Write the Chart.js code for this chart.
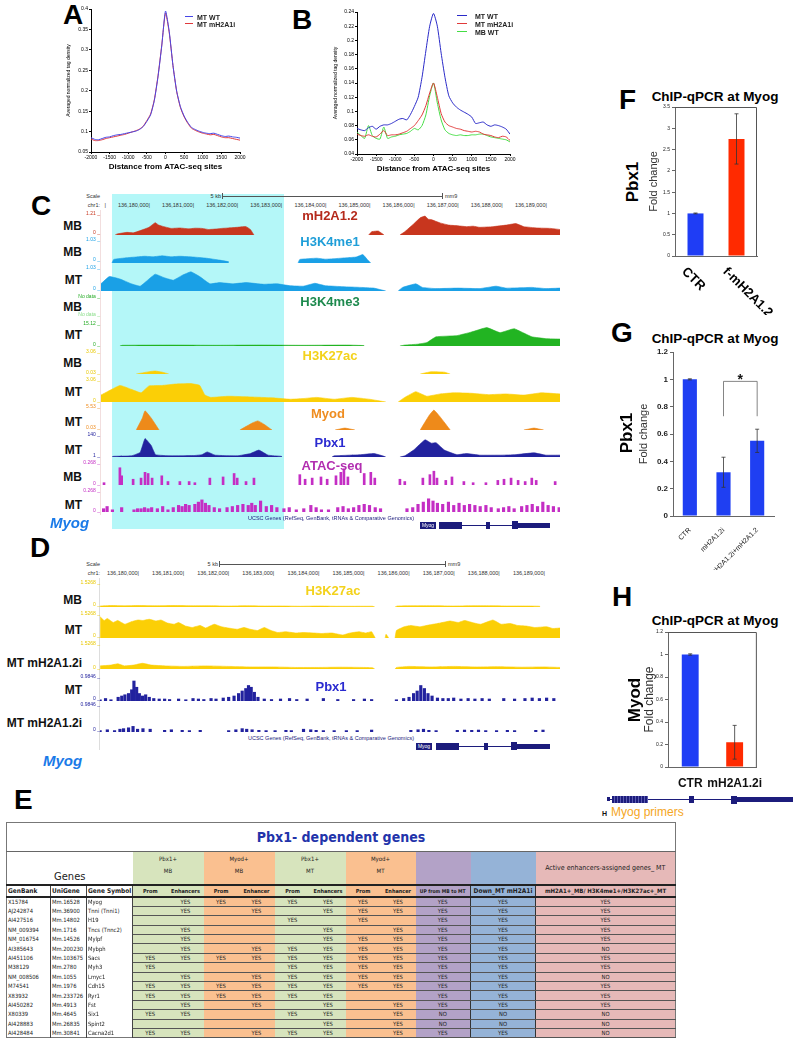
<!DOCTYPE html>
<html lang="en">
<head>
<meta charset="UTF-8" />
<title>Pbx1 / mH2A1.2 at Myog</title>
<script src="https://cdn.jsdelivr.net/npm/chart.js@4.4.1/dist/chart.umd.min.js"></script>
<style>
  html, body { margin: 0; padding: 0; background: #fff; }
  body { position: relative; width: 800px; height: 1043px; overflow: hidden;
         font-family: "Liberation Sans", Arial, sans-serif; }
  .abs { position: absolute; white-space: nowrap; line-height: 1; }
  canvas { position: absolute; }
  .letter { position: absolute; font: bold 28px "Liberation Sans", Arial, sans-serif; line-height: 1; }
  .ttl { position: absolute; font: bold 13.5px "Liberation Sans", Arial, sans-serif; transform: translateX(-50%); white-space: nowrap; }
  table.genes { position: absolute; left: 6px; top: 822px; width: 670px; border-collapse: collapse;
    table-layout: fixed; font-family: "Liberation Sans Narrow", "DejaVu Sans Condensed", "Liberation Sans", sans-serif;
    color: #222; border: 1px solid #777; }
  table.genes td { padding: 0; overflow: hidden; white-space: nowrap; }
  table.genes tr.d td { height: 8.4px; font-size: 5.8px; line-height: 8px; border-bottom: 1px solid #555; text-align: center; }
  table.genes tr.d td.w { text-align: left; border-bottom: none; border-right: 1px solid #444; padding-left: 1px; }
  .g { background: #d7e4bd; } .o { background: #fac090; } .p { background: #b3a2c7; } .b { background: #95b3d7; } .k { background: #e6b9b8; }
</style>
</head>
<body>

<div class="letter" style="left:63px;top:1px">A</div>
<div class="letter" style="left:292px;top:6px">B</div>
<div class="letter" style="left:31px;top:192px">C</div>
<div class="letter" style="left:30px;top:534px">D</div>
<div class="letter" style="left:14px;top:786px">E</div>
<div class="letter" style="left:619px;top:86px">F</div>
<div class="letter" style="left:611px;top:319px">G</div>
<div class="letter" style="left:612px;top:583px">H</div>

<div class="ttl" style="left:715px;top:89px">ChIP-qPCR at Myog</div>
<div class="ttl" style="left:715px;top:331px">ChIP-qPCR at Myog</div>
<div class="ttl" style="left:715px;top:613px">ChIP-qPCR at Myog</div>

<!-- highlight behind panel C -->
<div class="abs" style="left:112px;top:194px;width:172px;height:335px;background:#b4f7f8"></div>
<div class="abs" style="left:100px;top:210px;width:1px;height:305px;background:#f2dede"></div>
<div class="abs" style="left:99px;top:578px;width:1px;height:172px;background:#ddd"></div>

<script>
// ---------------- A / B : ATAC-seq centred profiles ----------------
const distBins = [-2000,-1900,-1800,-1700,-1600,-1500,-1400,-1300,-1200,-1100,-1000,-900,-800,-700,-600,-500,-400,-300,-200,-100,0,
                  100,200,300,400,500,600,700,800,900,1000,1100,1200,1300,1400,1500,1600,1700,1800,1900,2000];
const aMtWt  = [0.085,0.081,0.080,0.083,0.086,0.087,0.090,0.092,0.093,0.095,0.097,0.099,0.101,0.105,0.112,0.125,0.141,0.176,0.235,0.310,0.395,
                0.345,0.262,0.199,0.161,0.138,0.122,0.110,0.105,0.101,0.098,0.096,0.095,0.096,0.093,0.090,0.088,0.089,0.087,0.086,0.084];
const aMtKd  = [0.082,0.078,0.078,0.080,0.083,0.085,0.087,0.089,0.091,0.093,0.096,0.099,0.102,0.106,0.113,0.127,0.143,0.178,0.237,0.312,0.390,
                0.342,0.262,0.198,0.159,0.136,0.120,0.108,0.103,0.099,0.096,0.094,0.092,0.093,0.090,0.087,0.085,0.085,0.083,0.081,0.079];
const bMtWt  = [0.076,0.074,0.073,0.077,0.079,0.075,0.079,0.081,0.081,0.083,0.086,0.089,0.090,0.088,0.096,0.107,0.120,0.148,0.185,0.220,0.238,
                0.220,0.182,0.148,0.122,0.112,0.106,0.102,0.099,0.096,0.092,0.083,0.084,0.085,0.081,0.079,0.081,0.080,0.078,0.075,0.068];
const bMtKd  = [0.068,0.066,0.065,0.067,0.065,0.064,0.068,0.073,0.066,0.067,0.067,0.068,0.070,0.072,0.076,0.080,0.087,0.095,0.108,0.126,0.140,
                0.120,0.097,0.085,0.080,0.078,0.076,0.075,0.073,0.072,0.071,0.072,0.071,0.068,0.067,0.066,0.064,0.063,0.065,0.064,0.059];
const bMbWt  = [0.071,0.066,0.062,0.080,0.066,0.062,0.061,0.078,0.062,0.064,0.065,0.067,0.068,0.069,0.072,0.076,0.074,0.080,0.095,0.122,0.140,
                0.112,0.088,0.074,0.069,0.067,0.066,0.067,0.066,0.066,0.067,0.067,0.068,0.068,0.066,0.064,0.063,0.062,0.061,0.060,0.057];

// ---------------- F / G / H : ChIP-qPCR ----------------
const fLabels = ['CTR', 'f-mH2A1.2'];
const fValues = [1.0, 2.75];
const fErrors = [0.01, 0.59];
const gLabels = ['CTR', 'mH2A1.2i', 'mH2A1.2i+mH2A1.2'];
const gValues = [1.0, 0.32, 0.55];
const gErrors = [0.004, 0.11, 0.085];
const hLabels = ['CTR', 'mH2A1.2i'];
const hValues = [1.0, 0.22];
const hErrors = [0.006, 0.15];

// ---------------- C : browser tracks, [kb from chr1:136,180,000, fraction of view max] ----------------
const cMh2aMb = [[-0.77,0],[-0.72,0.05],[-0.5,0.12],[-0.35,0.1],[-0.2,0.2],[0,0.35],[0.14,0.56],[0.22,0.45],[0.3,0.4],[0.5,0.3],[0.7,0.32],[0.9,0.28],[1.05,0.31],[1.2,0.3],
  [1.35,0.25],[1.5,0.27],[1.65,0.3],[1.8,0.32],[2.0,0.35],[2.2,0.38],[2.3,0.25],[2.38,0],[2.39,null],[4.98,0],[5.05,0.15],[5.2,0.18],[5.33,0],[5.34,null],
  [5.69,0],[5.8,0.15],[6.0,0.5],[6.15,0.78],[6.26,0.86],[6.33,0.72],[6.4,0.7],[6.6,0.55],[6.8,0.45],[7.0,0.42],[7.2,0.38],[7.35,0.4],[7.5,0.35],[7.8,0.38],
  [8.1,0.45],[8.32,0.52],[8.5,0.38],[8.8,0.32],[9.1,0.3],[9.32,0.25]];
const cK4me1Mb = [[-0.84,0],[-0.8,0.15],[-0.5,0.22],[-0.3,0.25],[-0.1,0.28],[0.1,0.26],[0.3,0.3],[0.5,0.26],[0.7,0.28],[1.0,0.25],[1.3,0.2],[1.6,0.12],[1.81,0.05],[1.82,null],
  [3.38,0],[3.42,0.15],[3.8,0.2],[4.0,0.16],[4.2,0.18],[4.5,0.22],[4.7,0.25],[4.85,0.35],[4.95,0.15],[5.03,0]];
const cK4me1Mt = [[-1.09,0.3],[-0.9,0.6],[-0.66,0.5],[-0.4,0.3],[-0.2,0.2],[0.0,0.5],[0.14,0.7],[0.35,0.55],[0.55,0.45],[0.75,0.65],
  [0.95,0.8],[1.15,0.6],[1.38,0.3],[1.6,0.35],[1.9,0.3],[2.2,0.35],[2.6,0.28],[2.9,0.3],[3.2,0.22],[3.5,0.2],[3.76,0.32],[4.0,0.22],
  [4.4,0.18],[4.8,0.15],[5.1,0.12],[5.37,0],[5.38,null],[5.65,0],[5.75,0.15],[6.05,0.3],[6.2,0.15],[6.5,0.1],[7.0,0.12],[7.5,0.1],
  [7.87,0.2],[8.1,0.12],[8.68,0.15],[9.0,0.1],[9.32,0.12]];
const cK4me3Mt = [[-0.66,0],[-0.6,0.03],[0.5,0.04],[1.5,0.03],[2.5,0.04],[3.5,0.03],[4.5,0.04],[4.88,0.02],[4.89,null],[5.69,0],[5.8,0.04],
  [6.1,0.08],[6.3,0.15],[6.51,0.4],[6.98,0.45],[7.3,0.6],[7.66,0.8],[7.96,0.58],[8.28,0.75],[8.68,0.4],[9.0,0.32],[9.32,0.3]];
const cK27acMb = [[-0.29,0],[0.0,0.1],[0.14,0.13],[0.3,0.08],[0.45,0],[0.46,null],[6.15,0],[6.4,0.1],[6.7,0.08],[6.83,0]];
const cK27acMt = [[-1.09,0.3],[-0.66,0.72],[-0.4,0.55],[-0.18,0.4],[0.0,0.7],[0.3,0.72],[0.6,0.78],[0.95,0.8],[1.15,0.72],[1.27,0.3],
  [1.4,0.2],[1.8,0.25],[2.3,0.22],[2.8,0.18],[3.2,0.12],[3.5,0.15],[3.8,0.2],[4.2,0.12],[4.6,0.2],[5.0,0.12],[5.37,0],[5.38,null],
  [5.65,0],[5.8,0.2],[6.05,0.45],[6.3,0.25],[6.6,0.35],[6.9,0.4],[7.3,0.38],[7.7,0.32],[8.1,0.35],[8.5,0.3],[8.9,0.4],[9.32,0.35]];
const cMyodMt = [[-0.29,0],[-0.15,0.5],[-0.09,0.8],[0.05,0.5],[0.23,0],[0.24,null],[2.06,0],[2.35,0.3],[2.47,0.38],[2.6,0.25],[2.79,0],
  [2.8,null],[4.22,0],[4.44,0.08],[4.67,0],[4.68,null],[6.15,0],[6.35,0.6],[6.46,0.83],[6.6,0.55],[6.83,0],[6.84,null],[8.5,0],[8.73,0.08],[8.95,0]];
const cPbx1Mt = [[-0.84,0],[-0.8,0.03],[-0.4,0.05],[-0.2,0.2],[-0.09,0.8],[0.05,0.5],[0.15,0.1],[0.5,0.05],[1.0,0.06],[1.2,0.1],[1.32,0.22],
  [1.5,0.08],[2.0,0.05],[2.3,0.15],[2.49,0.3],[2.7,0.08],[3.0,0.03],[3.02,0],[3.03,null],[4.15,0],[4.2,0.05],[4.8,0.1],[5.1,0.15],
  [5.3,0.05],[5.37,0],[5.38,null],[5.69,0],[5.8,0.05],[6.0,0.3],[6.26,0.75],[6.4,0.6],[6.51,0.62],[6.7,0.3],[6.98,0.1],[7.2,0.15],
  [7.5,0.08],[8.0,0.08],[8.3,0.1],[8.73,0.18],[9.0,0.08],[9.32,0.08]];
const cAtacMb = [[-1.02,0.1],[-0.66,0.75],[-0.62,0.4],[-0.36,0.25],[-0.18,0.3],[-0.09,0.55],[-0.02,0.5],[0.07,0.3],[0.29,0.4],[0.43,0.15],
  [0.70,0.15],[0.91,0.15],[1.04,0.1],[1.38,0.3],[1.68,0.35],[1.93,0.5],[2.0,0.3],[2.2,0.15],[2.38,0.3],[3.42,0.45],[3.54,0.25],[3.70,0.3],
  [3.90,0.35],[4.04,0.25],[4.24,0.4],[4.35,0.55],[4.42,0.7],[4.51,0.35],[4.88,0.5],[5.03,0.55],[5.12,0.3],[5.69,0.25],[5.80,0.15],
  [6.21,0.3],[6.37,0.45],[6.46,0.6],[6.53,0.3],[6.73,0.2],[6.87,0.35],[7.14,0.15],[7.35,0.1],[7.64,0.1],[7.91,0.2],[8.05,0.25],
  [8.21,0.3],[8.37,0.2],[8.53,0.15],[8.68,0.3],[8.78,0.2],[9.21,0.15]];
const cAtacMt = [[-1.03,0.15],[-0.95,0.25],[-0.83,0.1],[-0.62,0.2],[-0.34,0.1],[-0.26,0.15],[-0.18,0.15],[-0.10,0.2],[-0.02,0.15],[0.06,0.2],
  [0.19,0.15],[0.31,0.25],[0.43,0.1],[0.55,0.2],[0.67,0.3],[0.75,0.25],[0.83,0.35],[0.91,0.3],[1.04,0.35],[1.12,0.45],[1.20,0.55],
  [1.28,0.4],[1.36,0.3],[1.48,0.2],[1.60,0.15],[1.77,0.2],[1.89,0.25],[2.01,0.3],[2.13,0.35],[2.25,0.3],[2.33,0.4],[2.41,0.3],[2.53,0.5],
  [2.66,0.25],[2.78,0.3],[2.90,0.2],[3.06,0.15],[3.18,0.2],[3.34,0.1],[3.51,0.15],[3.67,0.3],[3.79,0.2],[3.91,0.1],[4.07,0.1],[4.28,0.2],
  [4.40,0.25],[4.52,0.15],[4.64,0.2],[4.76,0.3],[4.88,0.35],[5.00,0.3],[5.13,0.2],[5.25,0.15],[5.85,0.15],[5.98,0.2],[6.10,0.35],
  [6.22,0.45],[6.34,0.6],[6.44,0.5],[6.54,0.4],[6.66,0.35],[6.79,0.45],[6.91,0.3],[7.03,0.4],[7.15,0.3],[7.27,0.35],[7.39,0.3],[7.51,0.25],
  [7.64,0.3],[7.76,0.2],[7.92,0.15],[8.04,0.2],[8.16,0.25],[8.28,0.15],[8.45,0.25],[8.57,0.3],[8.69,0.35],[8.81,0.25],[8.93,0.45],
  [9.05,0.3],[9.17,0.25],[9.30,0.2]];

// ---------------- D : browser tracks ----------------
const dK27acMb = [[-0.84,0.04],[-0.6,0.06],[-0.3,0.05],[0,0.06],[0.4,0.05],[0.8,0.06],[1.2,0.05],[1.6,0.05],[2.0,0.04],[2.4,0.05],[2.8,0.04],
  [3.2,0.04],[3.6,0.03],[4.0,0.04],[4.4,0.03],[4.8,0.03],[5.2,0.03],[5.25,0],[5.26,null],[5.7,0],[5.75,0.04],[6.2,0.05],[6.6,0.05],
  [7.0,0.04],[7.4,0.05],[7.8,0.05],[8.2,0.04],[8.6,0.04],[8.9,0.03],[8.92,0]];
const dK27acMt = [[-0.84,0.85],[-0.75,0.7],[-0.68,0.78],[-0.55,0.62],[-0.45,0.7],[-0.29,0.55],[-0.15,0.65],[0.0,0.72],[0.11,0.7],[0.25,0.75],
  [0.4,0.68],[0.51,0.72],[0.65,0.6],[0.8,0.55],[0.9,0.62],[1.05,0.48],[1.2,0.42],[1.38,0.5],[1.5,0.4],[1.69,0.55],[1.85,0.45],[2.0,0.4],
  [2.2,0.35],[2.35,0.42],[2.49,0.35],[2.65,0.3],[2.8,0.42],[2.95,0.3],[3.1,0.22],[3.28,0.25],[3.5,0.2],[3.67,0.22],[3.9,0.2],[4.07,0.18],
  [4.3,0.2],[4.54,0.12],[4.7,0.2],[4.9,0.25],[5.05,0.2],[5.18,0.25],[5.26,0],[5.27,null],[5.48,0],[5.5,0.15],[5.56,0],[5.57,null],
  [5.7,0],[5.73,0.3],[5.9,0.45],[6.05,0.5],[6.25,0.45],[6.45,0.52],[6.7,0.6],[6.92,0.68],[7.1,0.62],[7.24,0.7],[7.45,0.6],[7.6,0.55],
  [7.87,0.72],[8.05,0.55],[8.25,0.58],[8.42,0.5],[8.6,0.48],[8.8,0.42],[9.06,0.45],[9.2,0.38],[9.36,0.4]];
const dK27acKd = [[-0.84,0.12],[-0.6,0.15],[-0.45,0.2],[-0.3,0.12],[-0.1,0.15],[0.1,0.22],[0.3,0.15],[0.6,0.12],[1.0,0.1],[1.5,0.12],
  [2.0,0.1],[2.5,0.08],[3.0,0.08],[3.5,0.06],[4.0,0.06],[4.5,0.07],[5.0,0.06],[5.2,0.05],[5.25,0],[5.26,null],[5.7,0],[5.73,0.06],
  [6.0,0.1],[6.5,0.08],[7.0,0.1],[7.5,0.08],[8.0,0.09],[8.5,0.07],[9.0,0.08],[9.36,0.06]];
const dPbx1Mt = [[-0.84,0.05],[-0.72,0.1],[-0.60,0.05],[-0.44,0.15],[-0.36,0.2],[-0.29,0.25],[-0.21,0.3],[-0.14,0.45],[-0.09,0.8],[-0.03,0.55],
  [0.03,0.3],[0.10,0.2],[0.17,0.25],[0.25,0.15],[0.35,0.1],[0.47,0.08],[0.59,0.08],[0.70,0.06],[0.90,0.08],[1.06,0.05],[1.22,0.1],
  [1.34,0.08],[1.46,0.06],[1.62,0.1],[1.73,0.08],[1.89,0.12],[2.01,0.15],[2.13,0.2],[2.23,0.3],[2.31,0.4],[2.39,0.5],[2.45,0.62],
  [2.51,0.55],[2.58,0.35],[2.66,0.15],[2.80,0.08],[2.96,0.06],[3.16,0.08],[3.36,0.1],[3.52,0.06],[3.75,0.08],[4.11,0.1],[4.43,0.06],
  [4.78,0.06],[5.02,0.08],[5.18,0.06],[5.73,0.05],[5.89,0.1],[6.01,0.15],[6.11,0.3],[6.19,0.4],[6.27,0.62],[6.35,0.5],[6.43,0.3],
  [6.52,0.2],[6.64,0.12],[6.76,0.1],[6.88,0.1],[7.0,0.12],[7.16,0.08],[7.32,0.1],[7.47,0.08],[7.63,0.1],[7.79,0.08],[8.11,0.1],
  [8.35,0.08],[8.58,0.1],[8.74,0.12],[8.90,0.1],[9.06,0.12],[9.22,0.1]];
const dPbx1Kd = [[-0.84,0.05],[-0.68,0.08],[-0.52,0.05],[-0.40,0.1],[-0.32,0.12],[-0.21,0.15],[-0.11,0.2],[-0.01,0.1],[0.11,0.12],[0.27,0.1],
  [0.59,0.06],[0.74,0.08],[0.98,0.06],[1.14,0.05],[1.38,0.06],[2.01,0.05],[2.17,0.08],[2.31,0.12],[2.41,0.1],[2.53,0.08],[2.68,0.06],
  [2.84,0.05],[3.04,0.05],[3.28,0.06],[3.40,0.05],[3.67,0.1],[3.83,0.08],[3.95,0.06],[4.11,0.05],[4.35,0.05],[4.62,0.05],[4.86,0.05],
  [5.18,0.07],[6.05,0.06],[6.21,0.08],[6.33,0.1],[6.45,0.06],[6.61,0.05],[7.08,0.06],[7.24,0.07],[7.40,0.06],[7.55,0.07],[7.71,0.05],
  [7.95,0.05],[8.19,0.06],[8.35,0.05],[8.82,0.06],[8.98,0.07]];

// ---------------- E : Pbx1-dependent genes ----------------
const genBank = ['X15784','AJ242874','AI427516','NM_009394','NM_016754','AI385643','AI451106','M38129','NM_008506','M74541','X83932','AI450282','X80339','AI428883','AI428484'];
const uniGene = ['Mm.16528','Mm.36900','Mm.14802','Mm.1716','Mm.14526','Mm.200230','Mm.103675','Mm.2780','Mm.1055','Mm.1976','Mm.233726','Mm.4913','Mm.4645','Mm.26835','Mm.30841'];
const geneSymbol = ['Myog','Tnni (Tnni1)','H19','Tncs (Tnnc2)','Mylpf','Mybph','Sacs','Myh3','Lmyc1','Cdh15','Ryr1','Fst','Six1','Spint2','Cacna2d1'];
// Pbx1 MB prom/enh, Myod MB prom/enh, Pbx1 MT prom/enh, Myod MT prom/enh, UP MB->MT, Down MT mH2A1i, active enhancer
const geneFlags = [
  ['','YES','YES','YES','YES','YES','YES','YES','YES','YES','YES'],
  ['','YES','','YES','','YES','YES','YES','YES','YES','YES'],
  ['','','','','YES','','YES','','YES','YES','YES'],
  ['','YES','','','','YES','','YES','YES','YES','YES'],
  ['','YES','','','','YES','YES','YES','YES','YES','YES'],
  ['','YES','','YES','YES','YES','YES','YES','YES','YES','NO'],
  ['YES','YES','YES','YES','YES','YES','YES','YES','YES','YES','YES'],
  ['YES','','','','YES','YES','YES','YES','YES','YES','YES'],
  ['','YES','','YES','YES','YES','YES','YES','YES','YES','NO'],
  ['YES','YES','YES','YES','YES','YES','YES','YES','YES','YES','YES'],
  ['YES','YES','YES','YES','YES','YES','','','YES','YES','YES'],
  ['','YES','','YES','','YES','','YES','YES','YES','YES'],
  ['YES','YES','','','YES','YES','','YES','NO','NO','NO'],
  ['','','','','','YES','','YES','NO','NO','NO'],
  ['YES','YES','','YES','YES','YES','','YES','YES','YES','NO']
];

// ====================================================================
Chart.defaults.font.family = '"Liberation Sans", Arial, sans-serif';
Chart.defaults.color = '#000';
Chart.defaults.animation = false;

function put(text, x, y, css, align) {
  const d = document.createElement('div');
  d.className = 'abs';
  d.textContent = text;
  const ax = align === 'r' ? '-100%' : (align === 'c' ? '-50%' : '0');
  d.style.cssText += `left:${x}px;top:${y}px;transform:translate(${ax},-50%);` + (css || '');
  document.body.appendChild(d);
  return d;
}
function box(x, y, w, h, color, extra) {
  const d = document.createElement('div');
  d.className = 'abs';
  d.style.cssText += `left:${x}px;top:${y}px;width:${w}px;height:${h}px;background:${color};` + (extra || '');
  document.body.appendChild(d);
}
function canvasAt(x, y, w, h) {
  const c = document.createElement('canvas');
  c.width = w; c.height = h;
  c.style.left = x + 'px'; c.style.top = y + 'px';
  document.body.appendChild(c);
  return c;
}
const tickFmt = v => String(Math.round(v * 100) / 100);

// ---- profile charts (A, B) ----
function profile(x, y, w, h, yw, padTop, padRight, sets, ymin, ymax, step) {
  new Chart(canvasAt(x, y, w, h), {
    type: 'line',
    data: { datasets: sets.map(s => ({
      data: distBins.map((d, i) => ({ x: d, y: s.values[i] })),
      borderColor: s.color, borderWidth: 1, pointRadius: 0, tension: 0.2, fill: false })) },
    options: {
      responsive: false, events: [],
      layout: { padding: { top: padTop, right: padRight, left: 0, bottom: 0 } },
      plugins: { legend: { display: false }, tooltip: { enabled: false } },
      scales: {
        x: { type: 'linear', min: -2000, max: 2000,
             ticks: { stepSize: 500, font: { size: 5 }, maxRotation: 0, padding: 1, callback: v => String(v) },
             grid: { drawOnChartArea: false, tickLength: 2, color: '#000' }, border: { color: '#000' },
             title: { display: true, text: 'Distance from ATAC-seq sites', font: { size: 8, weight: 'bold' }, padding: { top: 1, bottom: 0 } },
             afterFit(s) { s.height = 20; } },
        y: { min: ymin, max: ymax,
             ticks: { stepSize: step, font: { size: 5 }, padding: 1, callback: tickFmt },
             grid: { drawOnChartArea: false, tickLength: 2, color: '#000' }, border: { color: '#000' },
             title: { display: true, text: 'Averaged normalized tag density', font: { size: 5 }, padding: { top: 0, bottom: 1 } },
             afterFit(s) { s.width = yw; } }
      }
    }
  });
}
profile(66, 0, 190, 172, 25, 9, 16, [
  { values: aMtWt, color: '#4646e6' }, { values: aMtKd, color: '#e0383c' }], 0.05, 0.4, 0.05);
profile(333, 0, 195, 174, 24, 12, 18, [
  { values: bMtWt, color: '#2a2ac8' }, { values: bMtKd, color: '#e03a3a' }, { values: bMbWt, color: '#44dd44' }], 0.04, 0.24, 0.02);

// legends
[['MT WT', '#4646e6', 185, 16], ['MT mH2A1i', '#e0383c', 185, 23],
 ['MT WT', '#2a2ac8', 457, 15], ['MT mH2A1i', '#e03a3a', 457, 23], ['MB WT', '#44dd44', 457, 31]].forEach(l => {
  box(l[2], l[3], l[2] > 400 ? 10 : 8, 1.2, l[1]);
  put(l[0], l[2] + (l[2] > 400 ? 18 : 12), l[3] + 0.5, 'font:bold 7px "Liberation Sans",Arial;color:#222');
});

// ---- browser track charts (C, D) ----
function track(x, top, base, w, xmin, xmax, pts, color, bars, thick) {
  const data = pts.map(p => ({ x: p[0], y: p[1] }));
  new Chart(canvasAt(x, top, w, base - top), {
    type: bars ? 'bar' : 'line',
    data: { datasets: [{ data, backgroundColor: color, borderColor: color,
      borderWidth: bars ? 0 : 0.6, fill: bars ? false : 'origin', pointRadius: 0, tension: 0.1,
      spanGaps: false, barThickness: thick || 3 }] },
    options: {
      responsive: false, events: [],
      layout: { padding: 0 },
      plugins: { legend: { display: false }, tooltip: { enabled: false } },
      scales: { x: { type: 'linear', min: xmin, max: xmax, display: false, offset: false },
                y: { min: 0, max: 1, display: false } }
    }
  });
}
const cMin = (101 - 149) / 44.1, cMax = (560 - 149) / 44.1;
const dMin = (100 - 138) / 45.1, dMax = (560 - 138) / 45.1;
const RED = '#c8361e', SKY = '#1aa0e6', GRN = '#22b422', YEL = '#fbcf06', ORG = '#ee8a1a', NAVY = '#22229e', MAG = '#c42ec4';

track(101, 213, 235, 459, cMin, cMax, cMh2aMb, RED);
track(101, 239, 263, 459, cMin, cMax, cK4me1Mb, SKY);
track(101, 267, 291, 459, cMin, cMax, cK4me1Mt, SKY);
track(101, 323, 346, 459, cMin, cMax, cK4me3Mt, GRN);
track(101, 351, 374, 459, cMin, cMax, cK27acMb, YEL);
track(101, 379, 402, 459, cMin, cMax, cK27acMt, YEL);
track(101, 406, 430, 459, cMin, cMax, cMyodMt, ORG);
track(101, 434, 457, 459, cMin, cMax, cPbx1Mt, NAVY);
track(101, 462, 485, 459, cMin, cMax, cAtacMb, MAG, true, 2);
track(101, 490, 512, 459, cMin, cMax, cAtacMt, MAG, true, 2.5);

track(100, 582, 607, 460, dMin, dMax, dK27acMb, YEL);
track(100, 613, 638, 460, dMin, dMax, dK27acMt, YEL);
track(100, 643, 669, 460, dMin, dMax, dK27acKd, YEL);
track(100, 676, 701, 460, dMin, dMax, dPbx1Mt, NAVY, true, 2.5);
track(100, 704, 732, 460, dMin, dMax, dPbx1Kd, NAVY, true, 2.5);

// rulers
const rulerFont = 'font:5.5px "Liberation Sans",Arial;color:#333';
function ruler(y, x0, pxPerKb, startTick, lineFrom, lineTo) {
  put('Scale', 100, y, rulerFont, 'r');
  put('5 kb', lineFrom - 1, y, rulerFont, 'r');
  box(lineFrom, y, lineTo - lineFrom, 0.7, '#555');
  box(lineFrom, y - 3, 0.8, 6, '#555'); box(lineTo, y - 3, 0.8, 6, '#555');
  put('mm9', lineTo + 3, y, rulerFont);
  put('chr1:', 100, y + 9, rulerFont, 'r');
  for (let k = startTick; k <= 9; k++) {
    const tx = x0 + k * pxPerKb;
    put(k < 0 ? '|' : (136180 + k).toLocaleString('en-US') + ',000|', tx + 1, y + 9, rulerFont, 'r');
  }
}
ruler(196, 149, 44.1, -1, 222, 442);
ruler(564, 138, 45.1, 0, 219, 445);

// track names and view limits
const rowFont = 'font:bold 12px "Liberation Sans",Arial;color:#111';
const valFont = 'font:5px "Liberation Sans",Arial;';
[['MB',226],['MB',252],['MT',280],['MB',307],['MT',335],['MB',363],['MT',392],['MT',422],['MT',450],['MB',477],['MT',505],
 ['MB',600],['MT',630],['MT mH2A1.2i',663],['MT',690],['MT mH2A1.2i',723]].forEach(r => put(r[0], 82, r[1], rowFont, 'r'));
[['1.21',213,RED],['0',232,RED],['1.03',239,SKY],['0',259,SKY],['1.03',267,SKY],['0',288,SKY],['No data',296,'#22aa22'],
 ['No data',314,'#88dd88'],['15.12',323,'#22aa22'],['0',344,'#22aa22'],['3.06',351,'#e8c800'],['0.03',372,'#e8c800'],['3.06',379,'#e8c800'],
 ['0',400,'#e8c800'],['5.53',406,ORG],['0.03',427,ORG],['140',434,NAVY],['1',455,NAVY],['0.268',462,MAG],['0',483,MAG],
 ['0.268',490,MAG],['0',510,MAG],
 ['1.5268',582,'#e8c800'],['0',604,'#e8c800'],['1.5268',613,'#e8c800'],['0',635,'#e8c800'],['1.5268',643,'#e8c800'],['0',667,'#e8c800'],
 ['0.9846',676,NAVY],['0',698,NAVY],['0.9846',704,NAVY],['0',729,NAVY]].forEach(v => put(v[0] + ' _', 100, v[1], valFont + 'color:' + v[2], 'r'));
const ttlFont = 'font:bold 13px "Liberation Sans",Arial;';
[['mH2A1.2',330,215,'#b52a1c'],['H3K4me1',330,241,'#1f9ed8'],['H3K4me3',330,301,'#1e8a4e'],['H3K27ac',330,355,'#f3d21c'],
 ['Myod',328,413,'#ef8d20'],['Pbx1',330,442,'#2a2ad0'],['ATAC-seq',332,465,'#b22eb0'],
 ['H3K27ac',333,590,'#f3d21c'],['Pbx1',331,686,'#2a2ad0']].forEach(t => put(t[0], t[1], t[2], ttlFont + 'color:' + t[3], 'c'));

put('Myog', 50, 522, 'font:italic bold 15px "Liberation Sans",Arial;color:#1a7ae8');
put('Myog', 43, 760, 'font:italic bold 15px "Liberation Sans",Arial;color:#1a7ae8');
const ucsc = 'UCSC Genes (RefSeq, GenBank, tRNAs & Comparative Genomics)';
put(ucsc, 331, 518, 'font:5.5px "Liberation Sans",Arial;color:#1c1c7c', 'c');
put(ucsc, 331, 738, 'font:5.5px "Liberation Sans",Arial;color:#1c1c7c', 'c');

// gene models
function geneModel(y, lab, e1, e2, e3, end) {
  box(lab, y - 3.5, 16, 7, '#1c1c7c');
  put('Myog', lab + 8, y, 'font:5px "Liberation Sans",Arial;color:#fff', 'c');
  box(e1, y - 0.5, end - e1, 1, '#1c1c7c');
  box(e1, y - 3.5, 23, 7, '#1c1c7c');
  box(e2, y - 3.5, 3.5, 7, '#1c1c7c');
  box(e3, y - 4, 6, 8, '#1c1c7c');
  box(e3 + 6, y - 2.5, end - e3 - 6, 5, '#1c1c7c');
}
geneModel(525, 420, 439, 486, 512, 550);
geneModel(746, 416, 436, 484, 511, 550);
// primer map under H
box(607, 798.5, 186, 1, '#1c1c7c');
box(607, 797, 3, 4, '#1c1c7c');
box(612, 796, 36, 7, '#1c1c7c', 'background:repeating-linear-gradient(90deg,#1c1c7c 0 2px,#5a5ab0 2px 3px)');
box(689, 796, 5, 7, '#1c1c7c');
box(731, 795.5, 6, 8, '#1c1c7c');
box(737, 797, 56, 4.5, '#1c1c7c');
put('H', 602, 812.5, 'font:bold 7px "Liberation Sans",Arial;color:#111');
put('Myog primers', 611, 812, 'font:12px "Liberation Sans Narrow","Liberation Sans",Arial;color:#f5a623');

// ---- qPCR bar charts (F, G, H) ----
const errorBars = {
  id: 'errorBars',
  afterDatasetsDraw(chart, args, o) {
    const ctx = chart.ctx, meta = chart.getDatasetMeta(0), y = chart.scales.y, vals = chart.data.datasets[0].data;
    ctx.save(); ctx.strokeStyle = '#333'; ctx.lineWidth = 0.8;
    o.err.forEach((e, i) => {
      const x = meta.data[i].x, t = y.getPixelForValue(vals[i] + e), b = y.getPixelForValue(vals[i] - e);
      ctx.beginPath(); ctx.moveTo(x, t); ctx.lineTo(x, b);
      ctx.moveTo(x - 2, t); ctx.lineTo(x + 2, t); ctx.moveTo(x - 2, b); ctx.lineTo(x + 2, b); ctx.stroke();
    });
    ctx.restore();
  }
};
const frame = {
  id: 'frame',
  afterDraw(chart) {
    const { ctx, chartArea: a } = chart;
    ctx.save(); ctx.strokeStyle = '#555'; ctx.lineWidth = 1;
    ctx.beginPath(); ctx.moveTo(a.left, a.top + 0.5); ctx.lineTo(a.right - 0.5, a.top + 0.5); ctx.lineTo(a.right - 0.5, a.bottom); ctx.stroke();
    ctx.restore();
  }
};
const rotLabels = {
  id: 'rotLabels',
  afterDraw(chart, args, o) {
    const ctx = chart.ctx, sx = chart.scales.x, top = chart.chartArea.bottom;
    ctx.save(); ctx.font = o.font; ctx.fillStyle = '#000'; ctx.textBaseline = 'top'; ctx.textAlign = 'left';
    chart.data.labels.forEach((lab, i) => {
      ctx.save(); ctx.translate(sx.getPixelForTick(i) + o.dx, top + o.dy); ctx.rotate(Math.PI / 4);
      ctx.fillText(lab, 0, 0); ctx.restore();
    });
    ctx.restore();
  }
};
const bracket = {
  id: 'bracket',
  afterDatasetsDraw(chart, args, o) {
    const ctx = chart.ctx, m = chart.getDatasetMeta(0), y = chart.scales.y;
    const x1 = m.data[o.from].x, x2 = m.data[o.to].x, yt = y.getPixelForValue(o.top), yb = y.getPixelForValue(o.leg);
    ctx.save(); ctx.strokeStyle = '#666'; ctx.lineWidth = 0.8;
    ctx.beginPath(); ctx.moveTo(x1, yb); ctx.lineTo(x1, yt); ctx.lineTo(x2, yt); ctx.lineTo(x2, yb); ctx.stroke();
    ctx.fillStyle = '#111'; ctx.font = 'bold 14px "Liberation Sans", Arial'; ctx.textAlign = 'center';
    ctx.fillText(o.mark, (x1 + x2) / 2, yt + 3);
    ctx.restore();
  }
};

function qpcr(x, y, w, h, yw, xh, padTop, padRight, labels, values, colors, ymax, step, cfg) {
  return new Chart(canvasAt(x, y, w, h), {
    type: 'bar',
    data: { labels, datasets: [{ data: values, backgroundColor: colors, barPercentage: cfg.barPct, categoryPercentage: 1 }] },
    options: {
      responsive: false, events: [],
      layout: { padding: { top: padTop, right: padRight, left: 0, bottom: 0 } },
      plugins: { legend: { display: false }, tooltip: { enabled: false }, ...cfg.plugOpts },
      scales: {
        x: { grid: { display: false }, border: { color: '#666' },
             ticks: Object.assign({ autoSkip: false, color: '#111' }, cfg.xticks),
             afterFit(s) { s.height = xh; } },
        y: { min: 0, max: ymax,
             ticks: { stepSize: step, font: cfg.yfont, color: '#222', padding: 2, callback: tickFmt },
             grid: { drawOnChartArea: false, tickLength: 3, color: '#666' }, border: { color: '#666' },
             title: { display: true, text: 'Fold change', font: { size: cfg.tsize }, color: '#333', padding: { top: 2, bottom: 0 } },
             afterFit(s) { s.width = yw; } }
      }
    },
    plugins: cfg.plugins
  });
}

qpcr(645, 100, 155, 215, 30, 59, 7, 43, fLabels, fValues, ['#1f3df5', '#ff2a00'], 3.5, 0.5, {
  barPct: 0.39, tsize: 11, yfont: { size: 5 }, xticks: { display: false },
  plugOpts: { errorBars: { err: fErrors }, rotLabels: { font: 'bold 13px "Liberation Sans", Arial', dx: -7, dy: 9 } },
  plugins: [errorBars, frame, rotLabels] });

qpcr(635, 345, 145, 225, 38, 54, 7, 6, gLabels, gValues, '#1f3ff2', 1.2, 0.2, {
  barPct: 0.42, tsize: 11, yfont: { size: 8, weight: 'bold' },
  xticks: { minRotation: 45, maxRotation: 45, font: { size: 7 }, padding: 2 },
  plugOpts: { errorBars: { err: gErrors }, bracket: { from: 1, to: 2, top: 0.985, leg: 0.73, mark: '*' } },
  plugins: [errorBars, bracket] });

qpcr(640, 620, 125, 170, 28, 23, 12, 8, hLabels, hValues, ['#1f3df5', '#ff2a00'], 1.2, 0.2, {
  barPct: 0.38, tsize: 12, yfont: { size: 5 },
  xticks: { maxRotation: 0, font: { size: 12, weight: 'bold' }, padding: 1 },
  plugOpts: { errorBars: { err: hErrors } },
  plugins: [errorBars, frame] });

const rotFont = 'font:bold 17px "Liberation Sans",Arial;color:#000';
put('Pbx1', 633, 182, rotFont).style.transform = 'translate(-50%,-50%) rotate(-90deg)';
put('Pbx1', 627, 433, rotFont).style.transform = 'translate(-50%,-50%) rotate(-90deg)';
put('Myod', 635, 700, rotFont).style.transform = 'translate(-50%,-50%) rotate(-90deg)';

// ---- table E ----
(function () {
  const widths = [44, 36, 46, 35, 36, 35, 36, 36, 35, 35, 35, 55, 65, 140];
  const cls = ['g','g','o','o','g','g','o','o','p','b','k'];
  let h = '<table class="genes"><colgroup>' + widths.map(w => `<col style="width:${w}px">`).join('') + '</colgroup>';
  h += '<tr><td colspan="14" style="height:28px;text-align:center;font-weight:bold;font-size:14px;color:#2233aa;border-bottom:1px solid #666">Pbx1- dependent genes</td></tr>';
  const grp = (c, t) => `<td colspan="2" class="${c}" style="vertical-align:top;text-align:center;font-size:6px;line-height:12px;padding-top:1px">${t}</td>`;
  h += '<tr style="height:33px"><td colspan="3" style="vertical-align:bottom;text-align:center;font-size:11px;padding-bottom:1px">Genes</td>' +
       grp('g', 'Pbx1+<br>MB') + grp('o', 'Myod+<br>MB') + grp('g', 'Pbx1+<br>MT') + grp('o', 'Myod+<br>MT') +
       '<td class="p"></td><td class="b"></td><td class="k" style="text-align:center;font-size:7px">Active enhancers-assigned genes_ MT</td></tr>';
  const heads = ['Prom','Enhancers','Prom','Enhancer','Prom','Enhancers','Prom','Enhancer'];
  h += '<tr style="height:12px;border-top:2px solid #222;border-bottom:2px solid #222">' +
       ['GenBank','UniGene','Gene Symbol'].map(t => `<td style="font-weight:bold;font-size:6.5px;border-right:1px solid #444;padding-left:1px">${t}</td>`).join('') +
       heads.map((t, i) => `<td class="${cls[i]}" style="text-align:center;font-weight:bold;font-size:5.5px">${t}</td>`).join('') +
       '<td class="p" style="text-align:center;font-weight:bold;font-size:5px;border-right:1px solid #333">UP from MB to MT</td>' +
       '<td class="b" style="text-align:center;font-weight:bold;font-size:6.5px;border-right:1px solid #333">Down_MT mH2A1i</td>' +
       '<td class="k" style="text-align:center;font-weight:bold;font-size:6px">mH2A1+_MB/ H3K4me1+/H3K27ac+_MT</td></tr>';
  genBank.forEach((g, r) => {
    h += `<tr class="d"><td class="w">${g}</td><td class="w">${uniGene[r]}</td><td class="w">${geneSymbol[r]}</td>` +
         geneFlags[r].map((f, i) => `<td class="${cls[i]}"${i >= 8 && i < 10 ? ' style="border-right:1px solid #333"' : ''}>${f}</td>`).join('') + '</tr>';
  });
  h += '</table>';
  document.body.insertAdjacentHTML('beforeend', h);
})();
</script>
</body>
</html>
